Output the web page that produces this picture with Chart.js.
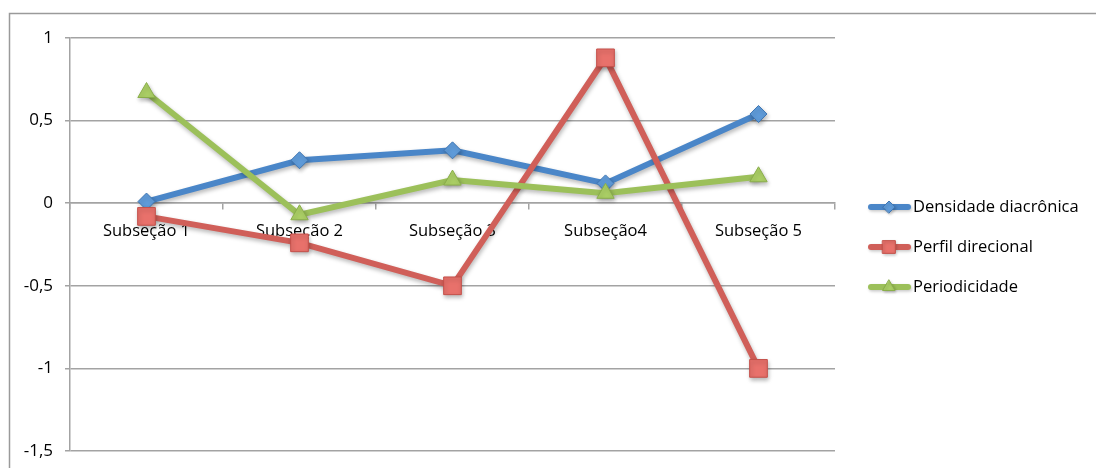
<!DOCTYPE html>
<html>
<head>
<meta charset="utf-8">
<script src="https://cdn.jsdelivr.net/npm/chart.js@4/dist/chart.umd.min.js"></script>
<style>
  html, body { margin: 0; padding: 0; background: #ffffff; }
  #wrap { width: 1096px; height: 468px; position: relative; }
</style>
</head>
<body>
<div id="wrap"><canvas id="chart" width="1096" height="468"></canvas></div>
<script>
// Categories and series
const categories = ['Subseção 1', 'Subseção 2', 'Subseção 3', 'Subseção4', 'Subseção 5'];
const densidadeDiacronica = [0.01, 0.26, 0.32, 0.12, 0.54];
const perfilDirecional = [-0.08, -0.24, -0.5, 0.88, -1.0];
const periodicidade = [0.67, -0.07, 0.14, 0.06, 0.16];
const seriesNames = ['Densidade diacrônica', 'Perfil direcional', 'Periodicidade'];
const yTickValues = [1, 0.5, 0, -0.5, -1, -1.5];
const yTickLabels = ['1', '0,5', '0', '-0,5', '-1', '-1,5'];

const FONT = '"Open Sans"';
const GRID = '#a3a3a3';

const styles = [
  { line: '#4a86c8', fill: '#5f9bd9', edge: '#3f76b3', point: 'rectRot', radius: 8.5, legendRadius: 6 },
  { line: '#d05f59', fill: '#e8716b', edge: '#c4504a', point: 'rect', radius: 12.5, legendRadius: 9 },
  { line: '#9cc05a', fill: '#acd066', edge: '#8aae4a', point: 'triangle', radius: 10, legendRadius: 7 }
];
const seriesData = [densidadeDiacronica, perfilDirecional, periodicidade];

// Soft drop shadow under each series line and its markers
const shadowPlugin = {
  id: 'seriesShadow',
  beforeDatasetDraw(chart) {
    const ctx = chart.ctx;
    ctx.save();
    ctx.shadowColor = 'rgba(0,0,0,0.28)';
    ctx.shadowBlur = 4;
    ctx.shadowOffsetX = 1;
    ctx.shadowOffsetY = 2.5;
  },
  afterDatasetDraw(chart) {
    chart.ctx.restore();
  }
};

// Outer frame of the chart object (left and top edges)
const framePlugin = {
  id: 'frame',
  beforeDraw(chart) {
    const ctx = chart.ctx;
    ctx.save();
    ctx.strokeStyle = '#9a9a9a';
    ctx.lineWidth = 1.5;
    ctx.beginPath();
    ctx.moveTo(9.5, chart.height);
    ctx.lineTo(9.5, 13.5);
    ctx.lineTo(chart.width, 13.5);
    ctx.stroke();
    ctx.restore();
  }
};

// Legend: line sample with marker, then the series name
const legendPlugin = {
  id: 'lineLegend',
  afterDraw(chart) {
    const ctx = chart.ctx;
    const ca = chart.chartArea;
    const x0 = ca.right + 33;
    const mid = (ca.top + ca.bottom) / 2 + 2.5;
    const gap = 40;
    ctx.save();
    seriesNames.forEach((name, i) => {
      const s = styles[i];
      const y = mid + (i - 1) * gap;
      ctx.save();
      ctx.shadowColor = 'rgba(0,0,0,0.22)';
      ctx.shadowBlur = 3;
      ctx.shadowOffsetX = 1;
      ctx.shadowOffsetY = 1.5;
      ctx.strokeStyle = s.line;
      ctx.lineWidth = 6;
      ctx.lineCap = 'round';
      ctx.beginPath();
      ctx.moveTo(x0 + 3, y);
      ctx.lineTo(x0 + 40, y);
      ctx.stroke();
      ctx.fillStyle = s.fill;
      ctx.strokeStyle = s.edge;
      ctx.lineWidth = 1;
      Chart.helpers.drawPoint(ctx, { pointStyle: s.point, radius: s.legendRadius, rotation: 0, borderWidth: 1 }, x0 + 21, y);
      ctx.restore();
      ctx.fillStyle = '#000000';
      ctx.font = '16.5px ' + FONT;
      ctx.textBaseline = 'middle';
      ctx.textAlign = 'left';
      ctx.fillText(name, x0 + 45, y);
    });
    ctx.restore();
  }
};

const datasets = seriesNames.map((name, i) => ({
  label: name,
  data: seriesData[i],
  borderColor: styles[i].line,
  borderWidth: 6,
  backgroundColor: styles[i].fill,
  pointStyle: styles[i].point,
  pointRadius: styles[i].radius,
  pointHoverRadius: styles[i].radius,
  pointBackgroundColor: styles[i].fill,
  pointBorderColor: styles[i].edge,
  pointBorderWidth: 1,
  tension: 0,
  fill: false,
  order: 2 - i
}));

new Chart(document.getElementById('chart'), {
  type: 'line',
  data: { labels: categories, datasets },
  options: {
    responsive: false,
    devicePixelRatio: 1,
    animation: false,
    layout: { padding: { top: 38, bottom: 17, left: 0, right: 261 } },
    plugins: {
      legend: { display: false },
      tooltip: { enabled: false }
    },
    scales: {
      x: {
        type: 'category',
        offset: true,
        position: { y: 0 },
        afterFit(scale) { scale.height = 0; scale.paddingTop = 0; scale.paddingBottom = 0; },
        grid: {
          display: true,
          drawOnChartArea: false,
          drawTicks: true,
          tickLength: 6,
          offset: true,
          color: GRID,
          lineWidth: 1.5
        },
        border: { display: true, color: GRID, width: 1.5 },
        ticks: {
          font: { family: FONT, size: 16.5 },
          color: '#000000',
          padding: 12,
          maxRotation: 0,
          autoSkip: false
        }
      },
      y: {
        min: Math.min(...yTickValues),
        max: Math.max(...yTickValues),
        afterFit(scale) { scale.width = 70; scale.paddingTop = 0; scale.paddingBottom = 0; },
        afterBuildTicks(scale) { scale.ticks = yTickValues.map(v => ({ value: v })); },
        grid: {
          color: GRID,
          lineWidth: 1.5,
          drawTicks: true,
          tickLength: 5
        },
        border: { display: true, color: GRID, width: 1.5 },
        ticks: {
          font: { family: FONT, size: 17 },
          color: '#000000',
          padding: 12,
          callback(value) {
            const k = yTickValues.indexOf(value);
            return k >= 0 ? yTickLabels[k] : '';
          }
        }
      }
    }
  },
  plugins: [framePlugin, shadowPlugin, legendPlugin]
});
</script>
</body>
</html>
